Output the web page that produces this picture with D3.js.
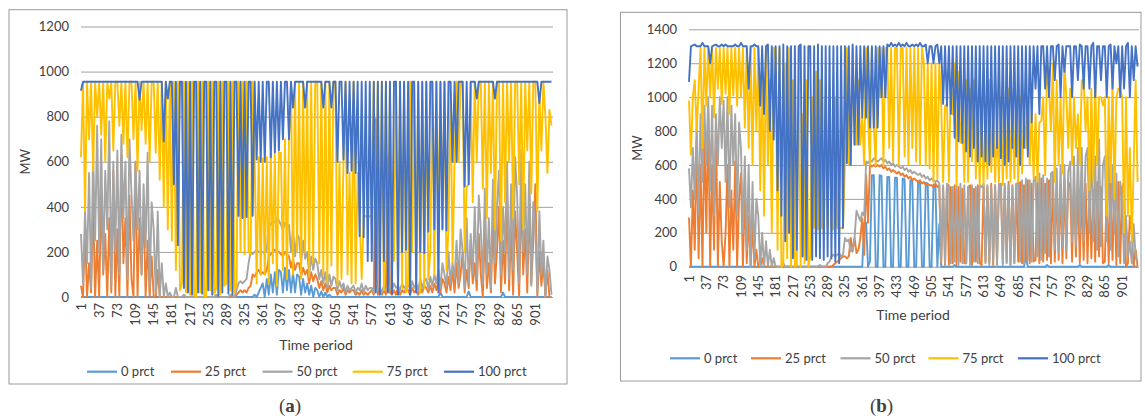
<!DOCTYPE html>
<html>
<head>
<meta charset="utf-8">
<script src="https://cdn.jsdelivr.net/npm/d3@7"></script>
<style>
  body { margin: 0; background: #fff; }
  svg { display: block; }
  text { font-family: Lato, "Open Sans", sans-serif; fill: #404040; }
</style>
</head>
<body>
<svg id="chart" width="1145" height="419"></svg>
<script>
// Series and axis definitions
const seriesNames  = ["0 prct", "25 prct", "50 prct", "75 prct", "100 prct"];
const seriesColors = ["#5B9BD5", "#ED7D31", "#A5A5A5", "#FFC000", "#4472C4"];
const tickPeriods  = [1, 37, 73, 109, 145, 181, 217, 253, 289, 325, 361, 397, 433,
                      469, 505, 541, 577, 613, 649, 685, 721, 757, 793, 829, 865, 901];
const yTicksA = [0, 200, 400, 600, 800, 1000, 1200];
const yTicksB = [0, 200, 400, 600, 800, 1000, 1200, 1400];
const lastPeriod = 936;
const sampleStep = 4;   // values below are read every 4th time period (1, 5, 9, ...)

// ---- Panel (a): dispatch in MW ----
const a0 = [
0,0,0,0,0,0,0,0,0, 0,0,0,0,0,0,0,0,0, 0,0,0,0,0,0,0,0,0,
0,0,0,0,0,0,0,0,0, 0,0,0,0,0,0,0,0,0, 0,0,0,0,0,0,0,0,0,
0,0,0,0,0,0,0,0,0, 0,0,0,0,0,0,0,0,0, 0,0,0,0,0,0,0,0,0,
0,0,0,0,0,10,0,20,40,
60,0,80,10,100,20,110,10,120,
110,20,130,30,120,20,110,20,100,
90,10,80,20,60,10,50,0,40,
30,0,25,0,20,0,10,0,0,
0,0,0,0,0,0,0,0,0, 0,0,0,0,0,0,0,0,0, 0,0,0,0,0,0,0,0,0,
0,0,0,0,0,0,0,0,0, 0,0,0,0,0,0,0,0,0,
0,0,0,0,0,0,0,20,0,
0,0,0,0,0,0,0,0,0,
0,0,0,25,0,0,0,0,0,
0,0,0,0,0,0,0,0,0,
0,0,20,0,0,0,0,0,0,
0,0,0,0,0,0,0,0,0,
0,0,0,0,0,0,0,0,0];

const a25 = [
50,0,300,0,150,20,420,0,250,
0,460,100,280,0,350,20,560,0,
300,0,630,150,350,0,450,80,0,
600,0,350,100,420,0,250,0,180,
0,0,120,0,0,0,0,0,0,
0,0,0,0,0,0,0,0,0,
0,0,0,0,0,0,0,0,0,
0,0,0,0,0,0,0,0,0,
0,0,0,0,0,10,20,30,20,
30,20,40,50,100,90,110,120,100,
110,100,120,180,190,200,210,200,200,
190,180,200,190,180,130,170,120,150,
150,90,130,100,120,60,110,70,100,
80,40,70,30,60,20,50,30,40,
40,10,30,20,40,10,30,20,30,
30,10,20,10,30,10,20,10,20,
30,10,790,10,40,10,30,10,620,
20,10,30,10,40,10,30,20,40,
30,10,40,20,30,10,40,20,50,
40,20,50,20,60,30,70,20,80,
60,20,90,30,120,20,150,40,100,
200,20,120,40,250,60,150,30,280,
100,0,300,40,150,20,350,60,200,
400,20,250,60,450,30,300,10,380,
200,0,480,100,300,20,420,60,250,
500,0,200,50,150,0,120,0,0];

const a50 = [
280,60,380,150,550,40,640,250,760,
200,700,120,560,300,780,50,600,200,
650,100,720,350,600,80,700,460,250,
600,300,560,100,500,220,640,40,420,
300,20,380,0,150,0,60,0,20,
0,0,40,0,0,0,10,0,0,
0,0,0,0,0,0,0,0,0,
0,0,0,0,10,0,0,0,0,
0,0,10,5,0,30,60,70,60,
70,80,150,200,190,200,210,200,200,
200,190,210,330,320,340,330,350,340,
320,300,330,310,320,200,300,180,280,
260,150,250,170,200,100,180,120,170,
150,80,120,60,110,40,100,50,90,
80,30,70,40,60,20,50,30,40,
50,20,40,30,60,20,50,30,40,
40,20,50,30,40,20,50,30,40,
50,30,60,40,50,30,60,40,50,
60,30,70,40,60,30,80,40,70,
80,40,90,50,100,60,120,40,150,
100,50,200,60,150,80,250,60,300,
200,40,350,60,280,100,400,80,450,
300,60,480,100,350,40,520,150,400,
560,100,400,200,600,80,500,120,620,
450,60,650,200,500,100,600,50,420,
300,20,380,100,250,0,180,120,10];

const a75 = [
620,950,380,955,700,955,560,955,800,
955,720,955,600,955,880,955,650,955,
955,760,955,680,955,620,955,955,700,
955,560,955,740,955,680,955,600,955,
955,640,955,520,955,400,955,300,955,
250,955,120,955,30,60,955,20,955,
10,955,10,0,955,20,955,5,0,
955,30,955,15,40,955,10,955,50,
60,955,30,955,20,60,955,200,955,
190,955,200,190,955,610,60,620,100,
615,100,620,60,640,150,630,50,640,
640,120,700,80,700,955,100,955,200,
955,80,955,200,955,90,955,150,955,
955,150,955,100,955,60,955,140,955,
955,50,600,80,610,955,100,550,60,
955,60,550,355,80,355,360,350,360,
355,955,230,955,160,955,30,955,20,
955,230,160,955,30,955,40,955,20,
60,955,200,955,70,955,20,955,40,
955,80,200,955,100,955,290,955,300,
955,120,300,955,150,600,955,600,955,
955,200,490,500,955,420,955,600,955,
955,480,955,350,955,550,955,300,955,
955,250,955,420,955,600,955,350,955,
955,500,955,300,955,650,955,460,955,
955,380,900,650,955,800,550,830,760];

const a100 = [
915,955,955,955,955,955,955,955,955,
955,955,955,955,955,955,955,955,955,
955,955,955,955,955,955,955,955,955,
955,955,875,955,955,955,955,955,955,
955,955,955,955,955,690,955,880,955,
955,500,955,230,955,955,40,955,20,
955,10,955,955,20,955,15,955,955,
30,955,10,955,955,5,955,20,955,
955,15,955,10,955,955,360,955,350,
955,355,955,955,360,955,610,955,600,
955,600,955,955,620,955,640,955,650,
955,700,955,955,700,955,840,955,955,
955,955,955,840,955,955,955,955,955,
955,955,955,840,955,955,955,840,955,
955,600,955,955,610,955,550,955,560,
955,550,955,270,955,265,955,160,955,
160,955,20,955,10,955,160,955,20,
955,15,955,955,10,955,200,955,210,
955,10,955,955,20,955,200,955,195,
955,290,955,955,300,955,20,955,300,
955,295,955,955,600,955,600,955,955,
955,490,955,500,955,955,955,880,955,
955,955,955,955,955,955,955,880,955,
955,955,955,955,955,955,955,955,955,
955,955,955,955,955,955,955,955,955,
955,955,860,955,955,955,955,955,955];

// ---- Panel (b): dispatch in MW ----
const b0 = [
0,0,0,0,0,0,0,0,0, 0,0,0,0,0,0,0,0,0, 0,0,0,0,0,0,0,0,0,
0,0,0,0,0,0,0,0,0, 0,0,0,0,0,0,0,0,0, 0,0,0,0,0,0,0,0,0,
0,0,0,0,0,0,0,0,0, 0,0,0,0,0,0,0,0,0, 0,0,0,0,0,0,0,0,0,
0,0,0,0,0,0,0,0,0,
0,260,260,0,30,540,540,0,0,
540,535,0,0,530,530,0,0,525,
525,0,0,520,515,0,0,510,510,
0,0,505,500,0,0,495,490,0,
0,485,480,0,250,0,0,0,0,
0,0,0,10,0,0,0,0,0,
0,0,0,0,0,0,0,0,0,
0,0,0,0,0,0,0,0,0,
0,0,0,0,0,0,0,0,0,
0,0,0,0,60,0,0,0,0,
0,0,0,0,0,0,10,0,0,
0,0,0,0,0,0,0,0,0,
0,0,0,0,0,10,0,0,0,
0,0,0,0,0,0,0,0,0,
0,0,10,0,0,0,0,0,0,
0,0,0,0,0,0,0,0,0];

const b25 = [
290,0,450,100,750,50,600,0,800,
200,900,0,600,100,850,0,500,150,
0,200,600,0,450,100,620,0,400,
550,0,450,20,300,0,250,0,100,
0,0,50,0,0,0,0,0,0,
0,0,0,0,0,0,0,0,0,
0,0,0,0,0,0,0,0,0,
0,0,0,0,0,0,0,0,0,
0,0,0,10,20,30,40,50,60,
60,50,60,170,90,170,80,100,170,
285,70,540,260,600,590,600,590,600,
590,600,580,590,570,580,560,570,560,
550,560,540,550,530,540,520,530,510,
520,510,500,510,490,500,480,490,480,
480,470,490,470,480,20,470,10,480,
10,470,20,480,10,470,30,460,20,
20,470,480,10,460,30,480,20,10,
480,30,470,20,490,10,480,30,480,
490,20,470,30,500,10,480,20,490,
30,500,20,480,40,510,20,490,30,
40,500,20,520,30,490,40,510,20,
520,30,500,40,480,20,510,50,500,
470,30,500,60,480,20,460,40,490,
20,480,50,450,30,500,60,470,20,
30,450,20,490,40,460,10,500,20,
470,500,0,20,300,200,0,100,0];

const b50 = [
580,350,700,400,850,300,900,500,950,
600,1000,450,950,300,900,600,1000,700,
980,500,1000,350,950,600,900,300,850,
700,200,650,100,600,0,500,50,400,
300,0,200,0,150,0,100,0,50,
0,0,0,0,20,0,0,0,0,
0,0,0,0,0,0,0,0,0,
0,0,0,0,0,10,0,0,0,
20,30,60,70,60,70,80,60,70,
170,150,160,90,100,170,330,300,270,
320,300,620,610,630,620,640,630,620,
630,640,620,630,610,620,600,610,590,
600,590,580,590,570,580,560,570,550,
560,550,540,550,530,540,520,530,510,
520,510,500,510,490,30,480,20,490,
480,20,470,30,480,10,490,20,480,
20,470,10,480,30,470,20,480,470,
490,20,480,10,470,30,480,0,490,
480,10,490,20,480,10,470,20,480,
500,30,510,20,520,40,510,30,510,
530,60,550,40,540,80,520,60,550,
560,100,580,80,600,120,600,100,560,
620,150,650,120,700,200,700,150,650,
700,200,760,150,650,100,750,120,600,
650,150,700,100,600,200,550,60,500,
400,20,300,60,150,20,250,60,30];

const b75 = [
980,660,1000,1100,800,1050,1290,700,1290,
950,1290,1000,1290,880,1290,1050,1290,960,
1290,1020,1290,900,1290,1010,1290,950,1290,
1000,1290,820,1290,700,1290,600,1290,800,
1290,450,1200,300,1290,600,1100,200,1290,
1290,100,1290,0,10,1200,50,1290,0,
1100,0,10,1290,0,900,20,1100,0,
60,1000,230,1150,220,1100,230,220,1000,
230,950,230,220,1000,230,220,230,225,
610,1290,600,610,1290,720,720,1100,720,
880,600,1290,880,600,1290,820,600,1290,
1000,1290,600,1290,1290,700,1290,620,1290,
1290,600,1290,1290,650,1290,600,1290,700,
1290,620,1290,600,1290,1200,600,1200,580,
1200,500,1200,520,1200,960,500,950,960,
500,1100,900,1200,480,1150,730,900,500,
1100,500,1050,620,1100,520,1000,480,900,
480,900,520,1100,560,900,500,850,500,
1000,480,900,520,1050,500,950,520,1000,
500,1000,550,880,700,1000,600,900,520,
900,500,850,860,1000,540,1200,1050,800,
1200,500,1100,600,1000,550,1200,1000,700,
1050,600,1000,700,900,600,1100,1100,800,
1000,450,1050,500,1100,600,1000,1000,950,
1000,300,1000,500,1100,400,1000,1050,1050,
1000,200,1000,300,700,150,600,1100,500];

const b100 = [
1090,1300,1305,1310,1300,1300,1300,1320,1300,
1300,1300,1200,1300,1305,1310,1300,1300,1310,
1300,1310,1300,1300,1300,1300,1310,1300,1300,
1320,1300,1300,1300,1050,1300,1300,1310,1300,
1300,950,1300,900,1300,1310,800,1300,750,
1300,450,1300,300,1310,150,1300,200,1300,
50,1300,100,1300,1310,60,1300,40,1300,
1300,40,1300,60,1310,50,1300,40,1300,
60,1300,50,1300,30,1300,20,1300,230,
1300,610,1300,600,1310,720,1300,720,1300,
880,1300,880,1300,820,1300,820,1300,820,
1300,1000,1300,1000,1310,1300,1320,1300,1310,
1300,1320,1300,1310,1300,1320,1300,1300,1310,
1300,1310,1300,1320,1300,1300,1310,1200,1300,
1300,1200,1300,1310,1200,1300,960,1300,950,
1300,900,1300,760,1300,740,1300,730,1300,
680,1300,650,1300,700,1300,620,1300,650,
1300,620,1300,600,1300,650,1300,700,1300,
640,1300,600,1300,620,1300,700,1300,650,
1300,600,1300,700,1300,650,1300,850,1300,
1050,1300,900,1300,1300,1050,1300,1000,1300,
1300,1100,1300,1310,1000,1300,1150,1300,1300,
1300,1000,1300,1300,1100,1310,1300,1050,1300,
1300,1050,1300,1320,1000,1300,1300,1100,1300,
1300,1000,1300,1310,1050,1300,1200,1300,1000,
1300,1050,1300,1320,1000,1300,1100,1300,1180];

// ---- Layout of the two panels ----
const panels = [
  { series: [a0, a25, a50, a75, a100], yTicks: yTicksA, yMax: 1200,
    box: [9, 9.7, 567, 384], x0: 81, x1: 553, y0: 297, y1: 26.5,
    labelTop: 303, mwX: 25.5, titleX: 316, titleY: 350, legendY: 371.7,
    legendLines: [87, 171, 262.5, 352.7, 444], caption: "a", captionX: 290 },
  { series: [b0, b25, b50, b75, b100], yTicks: yTicksB, yMax: 1400,
    box: [620.5, 12.3, 1141, 381], x0: 689, x1: 1139, y0: 266.7, y1: 29.3,
    labelTop: 275, mwX: 637, titleX: 913, titleY: 320, legendY: 358.3,
    legendLines: [670, 751, 840.5, 928.5, 1018], caption: "b", captionX: 881.5 }
];

const svg = d3.select("#chart");

panels.forEach(p => {
  const g = svg.append("g");
  const x = d3.scaleLinear().domain([1, lastPeriod]).range([p.x0, p.x1]);
  const y = d3.scaleLinear().domain([0, p.yMax]).range([p.y0, p.y1]);

  // chart frame
  g.append("rect")
    .attr("x", p.box[0]).attr("y", p.box[1])
    .attr("width", p.box[2] - p.box[0]).attr("height", p.box[3] - p.box[1])
    .attr("fill", "none").attr("stroke", "#9a9a9a").attr("stroke-width", 1);

  // value axis with horizontal gridlines
  const yAxis = g.append("g")
    .attr("transform", `translate(${p.x0},0)`)
    .call(d3.axisLeft(y).tickValues(p.yTicks).tickSize(-(p.x1 - p.x0)).tickPadding(12)
      .tickFormat(d3.format("d")));
  yAxis.select(".domain").remove();
  yAxis.selectAll(".tick line").attr("stroke", "#a0a0a0").attr("stroke-width", 1);
  yAxis.selectAll(".tick text")
    .style("font-family", "Lato, sans-serif").style("font-size", "13px").attr("fill", "#404040");

  // rotated category labels
  g.append("g").selectAll("text")
    .data(tickPeriods)
    .join("text")
    .attr("transform", d => `translate(${x(d)},${p.labelTop}) rotate(-90)`)
    .attr("dy", "0.35em")
    .attr("text-anchor", "end")
    .style("font-size", "13px")
    .text(d => d);

  // series lines (drawn in legend order, last on top)
  const line = d3.line()
    .x((d, i) => x(1 + i * sampleStep))
    .y(d => y(d));
  p.series.forEach((vals, k) => {
    g.append("path")
      .datum(vals)
      .attr("d", line)
      .attr("fill", "none")
      .attr("stroke", seriesColors[k])
      .attr("stroke-width", 1.9)
      .attr("stroke-linejoin", "round");
  });

  // axis titles
  g.append("text")
    .attr("transform", `translate(${p.mwX},${(p.y0 + p.y1) / 2}) rotate(-90)`)
    .attr("text-anchor", "middle").attr("dy", "0.35em")
    .style("font-size", "13px").text("MW");
  g.append("text")
    .attr("x", p.titleX).attr("y", p.titleY)
    .attr("text-anchor", "middle")
    .style("font-size", "14px").text("Time period");

  // legend
  const leg = g.append("g").selectAll("g")
    .data(seriesNames)
    .join("g")
    .attr("transform", (d, i) => `translate(${p.legendLines[i]},${p.legendY})`);
  leg.append("line")
    .attr("x1", 0).attr("x2", 30).attr("y1", 0).attr("y2", 0)
    .attr("stroke", (d, i) => seriesColors[i]).attr("stroke-width", 2.2);
  leg.append("text")
    .attr("x", 34).attr("dy", "0.35em")
    .style("font-size", "13px").text(d => d);

  // panel caption
  const cap = svg.append("text")
    .attr("x", p.captionX).attr("y", 412)
    .attr("text-anchor", "middle")
    .style("font-family", "'Liberation Serif', 'DejaVu Serif', serif")
    .style("font-size", "19px").attr("fill", "#000");
  cap.append("tspan").text("(");
  cap.append("tspan").style("font-weight", "bold").text(p.caption);
  cap.append("tspan").text(")");
});
</script>
</body>
</html>
